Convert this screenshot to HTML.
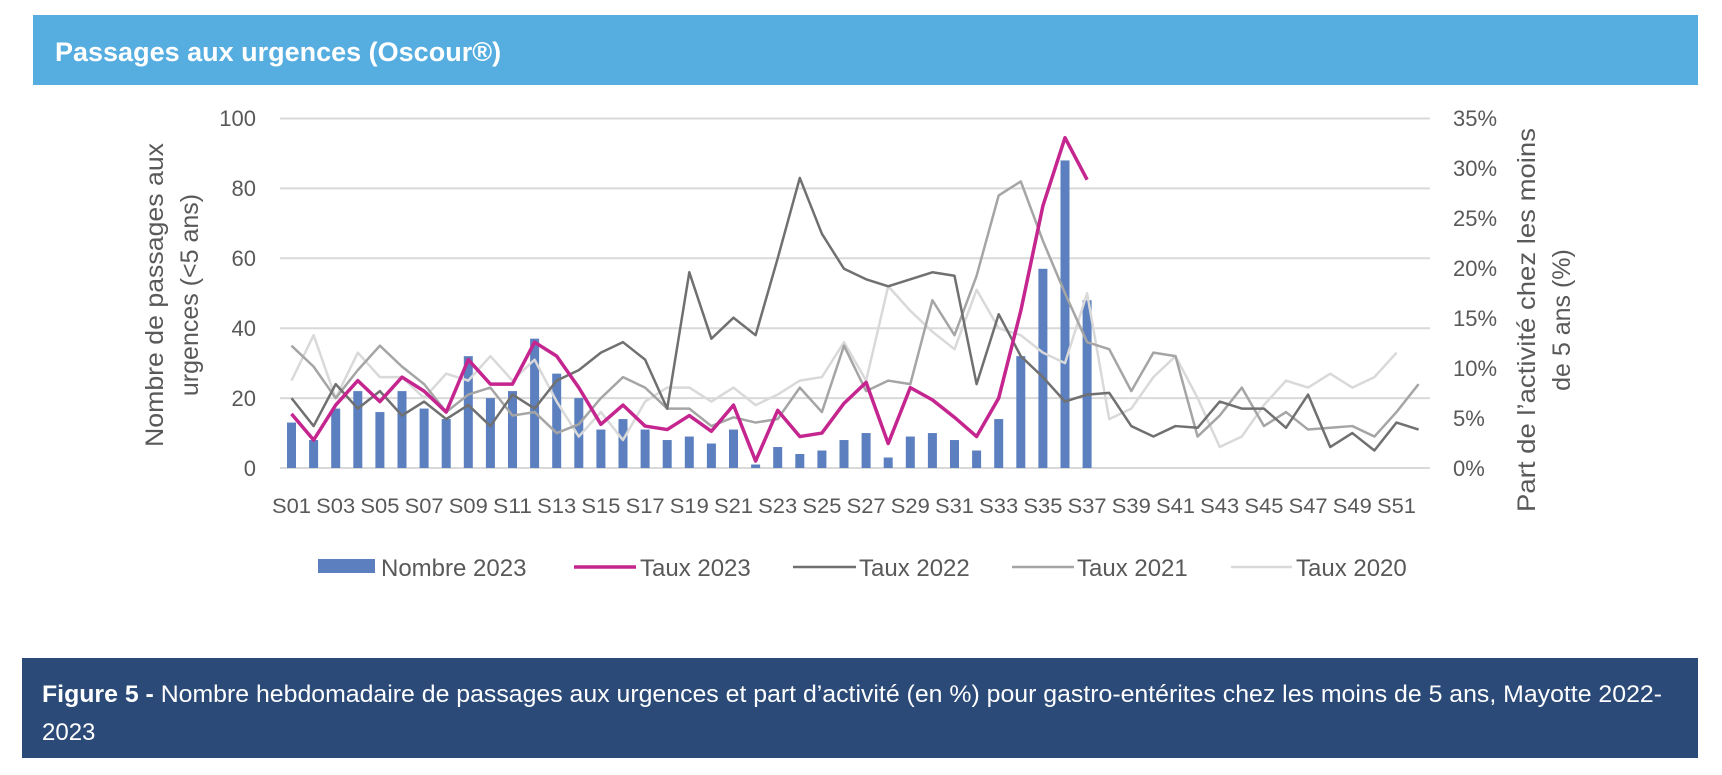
<!DOCTYPE html>
<html><head><meta charset="utf-8"><style>
body{margin:0;width:1722px;height:770px;background:#fff;overflow:hidden;font-family:"Liberation Sans",sans-serif}
</style></head><body>
<svg id="s" width="1722" height="770" xmlns="http://www.w3.org/2000/svg" font-family="Liberation Sans, sans-serif">
<rect x="33" y="15" width="1665" height="70" fill="#55ade0"/>
<text x="55" y="61" font-size="27" font-weight="bold" fill="#fff">Passages aux urgences (Oscour®)</text>
<rect x="22" y="658" width="1676" height="100" fill="#2b4a78"/>
<text x="42" y="702" font-size="24" fill="#fff" textLength="1620" lengthAdjust="spacingAndGlyphs"><tspan font-weight="bold">Figure 5 -</tspan> Nombre hebdomadaire de passages aux urgences et part d’activité (en %) pour gastro-entérites chez les moins de 5 ans, Mayotte 2022-</text>
<text x="42" y="740" font-size="24" fill="#fff">2023</text>
<g id="grid" stroke="#d9d9d9" stroke-width="2"></g>
<g id="bars" fill="#5b7fbf"></g>
<g id="lines" fill="none" stroke-linejoin="round"></g>
<g font-size="22" fill="#595959" text-anchor="end">
<text x="256" y="126">100</text><text x="256" y="196">80</text><text x="256" y="266">60</text><text x="256" y="336">40</text><text x="256" y="406">20</text><text x="256" y="476">0</text>
</g>
<g font-size="22" fill="#595959" text-anchor="start">
<text x="1453" y="126">35%</text><text x="1453" y="176">30%</text><text x="1453" y="226">25%</text><text x="1453" y="276">20%</text><text x="1453" y="326">15%</text><text x="1453" y="376">10%</text><text x="1453" y="426">5%</text><text x="1453" y="476">0%</text>
</g>
<g id="xl" font-size="21" fill="#595959" text-anchor="middle"></g>
<g font-size="25" fill="#595959" text-anchor="middle">
<text transform="translate(163,295) rotate(-90)" textLength="304" lengthAdjust="spacingAndGlyphs">Nombre de passages aux</text>
<text transform="translate(198,295) rotate(-90)">urgences (&lt;5 ans)</text>
<text transform="translate(1535,320) rotate(-90)" textLength="384" lengthAdjust="spacingAndGlyphs">Part de l’activité chez les moins</text>
<text transform="translate(1570,320) rotate(-90)">de 5 ans (%)</text>
</g>
<rect x="318" y="559" width="57" height="14" fill="#5b7fbf"/>
<line x1="574" y1="567" x2="636" y2="567" stroke="#c5258f" stroke-width="3.5"/>
<line x1="793" y1="567" x2="856" y2="567" stroke="#707070" stroke-width="2.5"/>
<line x1="1012" y1="567" x2="1074" y2="567" stroke="#a5a5a5" stroke-width="2.5"/>
<line x1="1231" y1="567" x2="1292" y2="567" stroke="#d9d9d9" stroke-width="2.5"/>
<g font-size="24" fill="#595959">
<text x="381" y="576">Nombre 2023</text><text x="640" y="576">Taux 2023</text><text x="859" y="576">Taux 2022</text><text x="1077" y="576">Taux 2021</text><text x="1296" y="576">Taux 2020</text>
</g>
</svg>
<script>
var NS="http://www.w3.org/2000/svg",X0=291.5,DX=22.1,Y0=468,K=3.495;
function el(p,t,a){var e=document.createElementNS(NS,t);for(var k in a)e.setAttribute(k,a[k]);document.getElementById(p).appendChild(e);}
for(var v=0;v<=100;v+=20)el("grid","line",{x1:280,x2:1430,y1:Y0-v*K,y2:Y0-v*K});
var nb=[13,8,17,22,16,22,17,14,32,20,22,37,27,20,11,14,11,8,9,7,11,1,6,4,5,8,10,3,9,10,8,5,14,32,57,88,48];
nb.forEach(function(v,i){el("bars","rect",{x:X0+i*DX-4.5,y:Y0-v*K,width:9,height:v*K});});
function line(d,c,w){el("lines","polyline",{points:d.map(function(v,i){return (X0+i*DX)+","+(Y0-v*K)}).join(" "),stroke:c,"stroke-width":w});}
line([25,38,20,33,26,26,20,27,25,32,25,31,19,9,16,8,19,23,23,19,23,18,21,25,26,36,25,52,45,39,34,51,40,38,33,30,50,14,17,26,32,20,6,9,18,25,23,27,23,26,33],"#d9d9d9",2.5);
line([35,29,20,28,35,29,24,16,21,23,15,16,10,12.5,20,26,23,17,17,12,14.5,13,14,23,16,35,22,25,24,48,38,55,78,82,65,50,36,34,22,33,32,9,15,23,12,16,11,11.5,12,9,16,24],"#a5a5a5",2.5);
line([20,12,24,17,22,15,19,14,18,12,21,17,25,28,33,36,31,17,56,37,43,38,60,83,67,57,54,52,54,56,55,24,44,32,26,19,21,21.5,12,9,12,11.5,19,17,17,11.5,21,6,10,5,13,11],"#707070",2.5);
line([15.5,8,18,25,19,26,22,16,31,24,24,36,32,23,12.5,18,12,11,15,10.5,18,2,16.5,9,10,18.5,24.5,7,23,19.5,14.5,9,20,45,75,94.5,82.5],"#c5258f",3.5);
for(var i=0;i<52;i+=2){var t=document.createElementNS(NS,"text");t.setAttribute("x",X0+i*DX);t.setAttribute("y",513);t.setAttribute("textLength",39);t.setAttribute("lengthAdjust","spacingAndGlyphs");t.textContent="S"+(i+1<10?"0":"")+(i+1);document.getElementById("xl").appendChild(t);}
</script>
</body></html>
